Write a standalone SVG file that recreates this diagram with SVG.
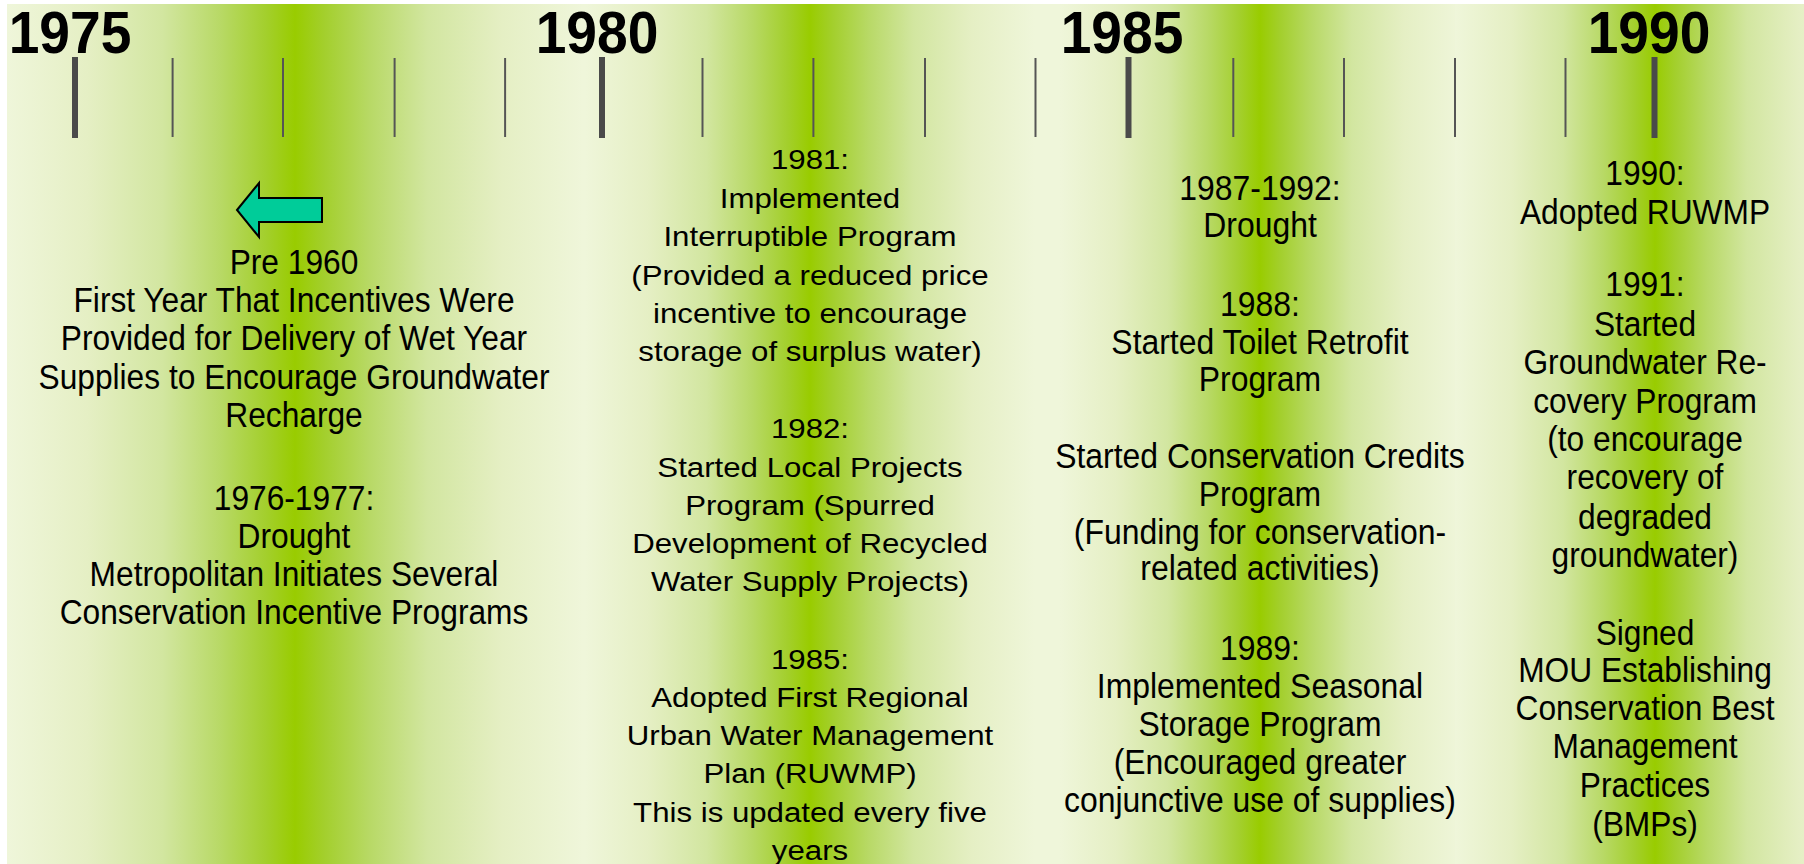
<svg xmlns="http://www.w3.org/2000/svg" width="1804" height="864" viewBox="0 0 1804 864">
  <defs>
    <linearGradient id="band" x1="0" y1="0" x2="1" y2="0">
      <stop offset="0" stop-color="#eff6da"/>
      <stop offset="0.14" stop-color="#e5efc4"/>
      <stop offset="0.27" stop-color="#d2e6a0"/>
      <stop offset="0.37" stop-color="#b8d966"/>
      <stop offset="0.45" stop-color="#a3cf2c"/>
      <stop offset="0.5" stop-color="#99cc00"/>
      <stop offset="0.55" stop-color="#a3cf2c"/>
      <stop offset="0.63" stop-color="#b8d966"/>
      <stop offset="0.73" stop-color="#d2e6a0"/>
      <stop offset="0.86" stop-color="#e5efc4"/>
      <stop offset="1" stop-color="#eff6da"/>
    </linearGradient>
    <style>
      .yr { font-family: "Liberation Sans", Arial, sans-serif; font-weight: bold; font-size: 60px; fill: #000; text-anchor: middle; }
      .t { font-family: "Liberation Sans", Arial, sans-serif; font-size: 34.5px; fill: #000; text-anchor: middle; }
      .t2 { font-family: "Liberation Sans", Arial, sans-serif; font-size: 27.5px; fill: #000; text-anchor: middle; }
      .major { fill: #4a4a4a; }
      .minor { stroke: #555; stroke-width: 2; }
    </style>
  </defs>

  <g id="background">
    <rect x="0" y="0" width="1804" height="864" fill="#ffffff"/>
    <rect x="7" y="4" width="1797" height="860" fill="#eff6da"/>
    <rect x="7" y="4" width="576" height="860" fill="url(#band)"/>
    <rect x="585" y="4" width="450" height="860" fill="url(#band)"/>
    <rect x="1060" y="4" width="400" height="860" fill="url(#band)"/>
    <rect x="1455" y="4" width="400" height="860" fill="url(#band)"/>
  </g>

  <g id="axis">
    <rect class="major" x="72" y="57" width="6" height="81"/>
    <rect class="major" x="599" y="57" width="6" height="81"/>
    <rect class="major" x="1125.5" y="57" width="6" height="81"/>
    <rect class="major" x="1651.5" y="57" width="6" height="81"/>
    <line class="minor" x1="172.6" y1="58" x2="172.6" y2="137"/>
    <line class="minor" x1="283" y1="58" x2="283" y2="137"/>
    <line class="minor" x1="394.6" y1="58" x2="394.6" y2="137"/>
    <line class="minor" x1="505.1" y1="58" x2="505.1" y2="137"/>
    <line class="minor" x1="702.5" y1="58" x2="702.5" y2="137"/>
    <line class="minor" x1="813.4" y1="58" x2="813.4" y2="137"/>
    <line class="minor" x1="925" y1="58" x2="925" y2="137"/>
    <line class="minor" x1="1035.5" y1="58" x2="1035.5" y2="137"/>
    <line class="minor" x1="1233.3" y1="58" x2="1233.3" y2="137"/>
    <line class="minor" x1="1344" y1="58" x2="1344" y2="137"/>
    <line class="minor" x1="1455" y1="58" x2="1455" y2="137"/>
    <line class="minor" x1="1565.5" y1="58" x2="1565.5" y2="137"/>
    <g transform="translate(70,0) scale(0.92,1)"><text class="yr" x="0" y="53">1975</text></g>
    <g transform="translate(597,0) scale(0.92,1)"><text class="yr" x="0" y="53">1980</text></g>
    <g transform="translate(1122,0) scale(0.92,1)"><text class="yr" x="0" y="53">1985</text></g>
    <g transform="translate(1649,0) scale(0.92,1)"><text class="yr" x="0" y="53">1990</text></g>
  </g>

  <g id="arrow-pre1960">
    <path d="M237,210 L259,183 L259,198 L322,198 L322,222 L259,222 L259,237 Z" fill="#00cc99" stroke="#000" stroke-width="2" stroke-linejoin="miter"/>
  </g>

  <g id="col-1975" transform="translate(294,0) scale(0.919,1)">
    <text class="t" x="0" y="274">Pre 1960</text>
    <text class="t" x="0" y="312">First Year That Incentives Were</text>
    <text class="t" x="0" y="350">Provided for Delivery of Wet Year</text>
    <text class="t" x="0" y="389">Supplies to Encourage Groundwater</text>
    <text class="t" x="0" y="427">Recharge</text>
    <text class="t" x="0" y="510">1976-1977:</text>
    <text class="t" x="0" y="548">Drought</text>
    <text class="t" x="0" y="586">Metropolitan Initiates Several</text>
    <text class="t" x="0" y="624">Conservation Incentive Programs</text>
  </g>

  <g id="col-1980" transform="translate(810,0) scale(1.135,1)">
    <text class="t2" x="0" y="169">1981:</text>
    <text class="t2" x="0" y="208">Implemented</text>
    <text class="t2" x="0" y="246">Interruptible Program</text>
    <text class="t2" x="0" y="285">(Provided a reduced price</text>
    <text class="t2" x="0" y="323">incentive to encourage</text>
    <text class="t2" x="0" y="361">storage of surplus water)</text>
    <text class="t2" x="0" y="438">1982:</text>
    <text class="t2" x="0" y="477">Started Local Projects</text>
    <text class="t2" x="0" y="515">Program (Spurred</text>
    <text class="t2" x="0" y="553">Development of Recycled</text>
    <text class="t2" x="0" y="591">Water Supply Projects)</text>
    <text class="t2" x="0" y="669">1985:</text>
    <text class="t2" x="0" y="707">Adopted First Regional</text>
    <text class="t2" x="0" y="745">Urban Water Management</text>
    <text class="t2" x="0" y="783">Plan (RUWMP)</text>
    <text class="t2" x="0" y="822">This is updated every five</text>
    <text class="t2" x="0" y="860">years</text>
  </g>

  <g id="col-1985" transform="translate(1260,0) scale(0.925,1)">
    <text class="t" x="0" y="200">1987-1992:</text>
    <text class="t" x="0" y="237">Drought</text>
    <text class="t" x="0" y="316">1988:</text>
    <text class="t" x="0" y="354">Started Toilet Retrofit</text>
    <text class="t" x="0" y="391">Program</text>
    <text class="t" x="0" y="468">Started Conservation Credits</text>
    <text class="t" x="0" y="506">Program</text>
    <text class="t" x="0" y="544">(Funding for conservation-</text>
    <text class="t" x="0" y="580">related activities)</text>
    <text class="t" x="0" y="660">1989:</text>
    <text class="t" x="0" y="698">Implemented Seasonal</text>
    <text class="t" x="0" y="736">Storage Program</text>
    <text class="t" x="0" y="774">(Encouraged greater</text>
    <text class="t" x="0" y="812">conjunctive use of supplies)</text>
  </g>

  <g id="col-1990" transform="translate(1645,0) scale(0.919,1)">
    <text class="t" x="0" y="185">1990:</text>
    <text class="t" x="0" y="224">Adopted RUWMP</text>
    <text class="t" x="0" y="296">1991:</text>
    <text class="t" x="0" y="336">Started</text>
    <text class="t" x="0" y="374">Groundwater Re-</text>
    <text class="t" x="0" y="413">covery Program</text>
    <text class="t" x="0" y="451">(to encourage</text>
    <text class="t" x="0" y="489">recovery of</text>
    <text class="t" x="0" y="529">degraded</text>
    <text class="t" x="0" y="567">groundwater)</text>
    <text class="t" x="0" y="645">Signed</text>
    <text class="t" x="0" y="682">MOU Establishing</text>
    <text class="t" x="0" y="720">Conservation Best</text>
    <text class="t" x="0" y="758">Management</text>
    <text class="t" x="0" y="797">Practices</text>
    <text class="t" x="0" y="836">(BMPs)</text>
  </g>

  <g id="connectors"/>
</svg>
